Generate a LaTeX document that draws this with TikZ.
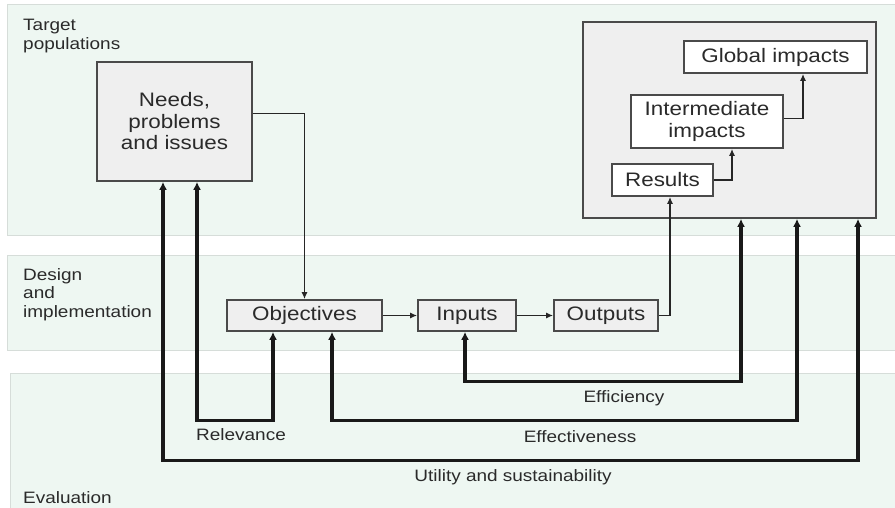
\documentclass[tikz,border=0pt]{standalone}
\usepackage{fontspec}
\newfontfamily\figfont[FakeStretch=1.15]{Liberation Sans}
\usetikzlibrary{arrows.meta}

\definecolor{bandfill}{HTML}{EEF7F2}
\definecolor{bandline}{HTML}{D6DDD9}
\definecolor{boxfill}{HTML}{EFEFEF}
\definecolor{boxline}{HTML}{4A4A4A}
\definecolor{txtgray}{HTML}{2A2A2A}

\tikzset{
  band/.style={fill=bandfill, draw=bandline, line width=1pt},
  box/.style={draw=boxline, line width=1.7pt, fill=boxfill, inner sep=0pt, text=txtgray,
    font=\figfont\fontsize{19.5}{21.5}\selectfont, align=center},
  whitebox/.style={box, fill=white},
  lbl/.style={text=txtgray, font=\figfont\fontsize{16.5}{18.5}\selectfont, inner sep=0pt, align=left},
  link/.style={line width=1.7pt, draw=black!85, -{Latex[length=7pt,width=6pt]}},
  evalpath/.style={line width=3.2pt, draw=black!90, {Latex[length=8pt,width=8pt]}-{Latex[length=8pt,width=8pt]}}
}

\begin{document}
\begin{tikzpicture}[x=1pt,y=-1pt]
\useasboundingbox (0,0) rectangle (895,508);

% bands
\draw[band] (7,5) rectangle (898,235) ;
\draw[band] (7,255) rectangle (898,350) ;
\draw[band] (10,373) rectangle (898,511) ;

\node[lbl, anchor=north west] (tgtlbl) at (23,19) {Target\\populations} ;
\node[lbl, anchor=north west] (deslbl) at (23,268) {Design\\and\\implementation} ;
\node[lbl, anchor=north west] (evallbl) at (23,491) {Evaluation} ;

% boxes
\node[box, minimum width=155pt, minimum height=119pt] (needs) at (174.5,121.5) {Needs,\\problems\\and issues} ;
\node[box, minimum width=293pt, minimum height=196pt] (impactbox) at (729.5,120) {} ;
\node[whitebox, minimum width=183pt, minimum height=32pt] (global) at (775.5,57) {Global impacts} ;
\node[whitebox, minimum width=152pt, minimum height=53pt] (inter) at (707,121.5) {Intermediate\\impacts} ;
\node[whitebox, minimum width=101pt, minimum height=32pt] (results) at (662.5,180) {Results} ;

\node[box, minimum width=155pt, minimum height=31pt] (objectives) at (304.5,315.5) {Objectives} ;
\node[box, minimum width=98pt, minimum height=31pt] (inputs) at (467,315.5) {Inputs} ;
\node[box, minimum width=104pt, minimum height=31pt] (outputs) at (606,315.5) {Outputs} ;

% chain
\draw[link] ([yshift=8pt]needs.east) -| (objectives.north) ;
\draw[link] (objectives.east) -- (inputs.west) ;
\draw[link] (inputs.east) -- (outputs.west) ;
\draw[link] (outputs.east) -| ([xshift=7.5pt]results.south) ;
\draw[link] (results.east) -| ([xshift=25pt]inter.south) ;
\draw[link] ([yshift=3pt]inter.east) -| ([xshift=27.5pt]global.south) ;

% evaluation loops
\draw[evalpath] ([xshift=22.5pt]needs.south) -- ++(0,239) -| ([xshift=-31.5pt]objectives.south) ;
\draw[evalpath] ([xshift=-11.5pt]needs.south) -- ++(0,279) -| ([xshift=128.5pt]impactbox.south) ;
\draw[evalpath] ([xshift=27.5pt]objectives.south) -- ++(0,89) -| ([xshift=67.5pt]impactbox.south) ;
\draw[evalpath] ([xshift=-2pt]inputs.south) -- ++(0,50) -| ([xshift=11.5pt]impactbox.south) ;

\node[lbl] (relevance) at (241,435) {Relevance} ;
\node[lbl] (efficiency) at (624,398) {Efficiency} ;
\node[lbl] (effectiveness) at (580,437) {Effectiveness} ;
\node[lbl] (utility) at (513,477) {Utility and sustainability} ;

\end{tikzpicture}
\end{document}
